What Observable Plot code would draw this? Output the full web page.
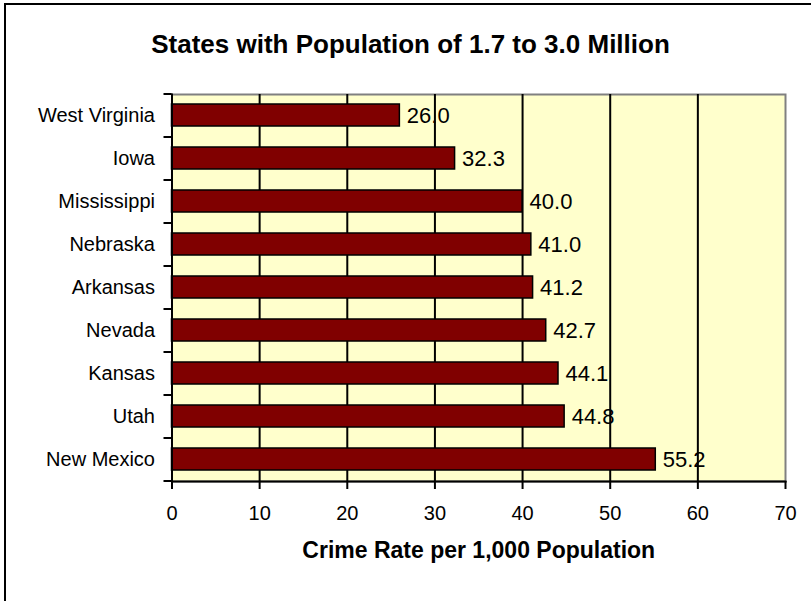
<!DOCTYPE html>
<html>
<head>
<meta charset="utf-8">
<script src="https://cdn.jsdelivr.net/npm/d3@7"></script>
<script src="https://cdn.jsdelivr.net/npm/@observablehq/plot@0.6"></script>
<style>
  html, body { margin: 0; padding: 0; background: #ffffff; overflow: hidden; }
  #wrap { position: relative; width: 811px; height: 601px; overflow: hidden; }
  #border { position: absolute; left: 4px; top: 3px; width: 900px; height: 700px;
            border-left: 2px solid #000; border-top: 2px solid #000; pointer-events: none; }
</style>
</head>
<body>
<div id="wrap"><div id="border"></div></div>
<script>
const title = "States with Population of 1.7 to 3.0 Million";
const xLabel = "Crime Rate per 1,000 Population";
const states = ["West Virginia", "Iowa", "Mississippi", "Nebraska", "Arkansas", "Nevada", "Kansas", "Utah", "New Mexico"];
const rates = [26.0, 32.3, 40.0, 41.0, 41.2, 42.7, 44.1, 44.8, 55.2];
const xTicks = [0, 10, 20, 30, 40, 50, 60, 70];
const gridTicks = [10, 20, 30, 40, 50, 60];

const data = states.map((s, i) => ({state: s, rate: rates[i]}));

const W = 811, H = 601;
const mL = 171.5, mR = 26, mT = 94, mB = 120;
const step = (H - mT - mB) / states.length;
const font = "'Liberation Sans', Arial, sans-serif";

const chart = Plot.plot({
  width: W,
  height: H,
  marginLeft: mL,
  marginRight: mR,
  marginTop: mT,
  marginBottom: mB,
  style: {fontFamily: font, background: "transparent", color: "#000", overflow: "visible"},
  x: {domain: [0, 70], label: null},
  y: {domain: states, paddingInner: 0.48, paddingOuter: 0.24, label: null},
  marks: [
    Plot.frame({fill: "#FFFFCC", stroke: "#808080", strokeWidth: 2}),
    Plot.text(data, {x: "rate", y: "state", text: d => d.rate.toFixed(1), dx: 7, textAnchor: "start", fontSize: 22, fill: "#000"}),
    Plot.ruleX(gridTicks, {stroke: "#000", strokeWidth: 2}),
    Plot.barX(data, {x: "rate", y: "state", fill: "#800000", stroke: "#000", strokeWidth: 1.5}),
    Plot.frame({anchor: "left", stroke: "#000", strokeWidth: 2}),
    Plot.frame({anchor: "bottom", stroke: "#000", strokeWidth: 2}),
    Plot.axisX({ticks: xTicks, tickSize: 8, tickPadding: 16, fontSize: 20, strokeWidth: 2, label: null, tickFormat: d => String(d)}),
    Plot.axisY({tickSize: 0, tickPadding: 17, fontSize: 20, label: null}),
    Plot.axisY({ticks: states, tickSize: 8, strokeWidth: 2, tickFormat: () => "", label: null, dy: step / 2}),
    Plot.axisY({ticks: [states[0]], tickSize: 8, strokeWidth: 2, tickFormat: () => "", label: null, dy: -step / 2}),
    Plot.text([title], {frameAnchor: "top-left", dx: 410 - mL, dy: 44 - mT, textAnchor: "middle", lineAnchor: "middle", fontSize: 26, fontWeight: "bold", fill: "#000"}),
    Plot.text([xLabel], {frameAnchor: "bottom", dy: 69, lineAnchor: "middle", fontSize: 23, fontWeight: "bold", fill: "#000"})
  ]
});
document.getElementById("wrap").prepend(chart);
</script>
</body>
</html>
